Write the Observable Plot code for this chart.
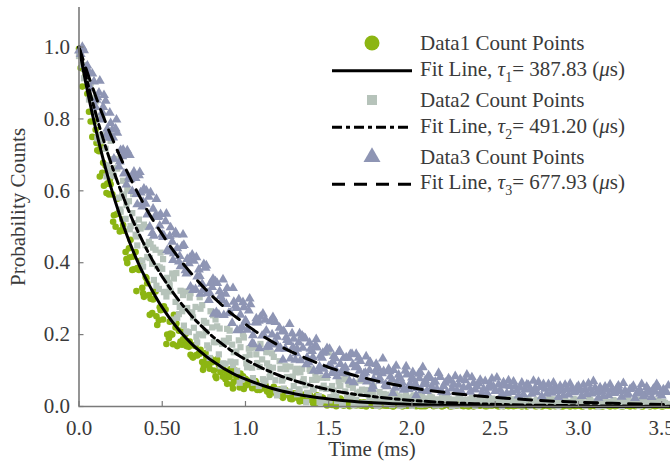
<!DOCTYPE html>
<html><head><meta charset="utf-8">
<script src="https://cdn.jsdelivr.net/npm/d3@7"></script>
<script src="https://cdn.jsdelivr.net/npm/@observablehq/plot@0.6"></script>
<style>
html,body{margin:0;padding:0;background:#fff;}
#chart{width:670px;height:465px;}
</style></head><body><div id="chart"></div>
<script>
// ---- data ----
// sample times A (ms)
const time = [
0,0.02,0.04,0.06,0.08,0.1,0.12,0.14,0.16,0.18,
0.2,0.22,0.24,0.26,0.28,0.3,0.32,0.34,0.36,0.38,
0.4,0.42,0.44,0.46,0.48,0.5,0.52,0.54,0.56,0.58,
0.6,0.62,0.64,0.66,0.68,0.7,0.72,0.74,0.76,0.78,
0.8,0.82,0.84,0.86,0.88,0.9,0.92,0.94,0.96,0.98,
1.0,1.02,1.04,1.06,1.08,1.1,1.12,1.14,1.16,1.18,
1.2,1.22,1.24,1.26,1.28,1.3,1.32,1.34,1.36,1.38,
1.4,1.42,1.44,1.46,1.48,1.5,1.52,1.54,1.56,1.58,
1.6,1.62,1.64,1.66,1.68,1.7,1.72,1.74,1.76,1.78,
1.8,1.82,1.84,1.86,1.88,1.9,1.92,1.94,1.96,1.98,
2.0,2.02,2.04,2.06,2.08,2.1,2.12,2.14,2.16,2.18,
2.2,2.22,2.24,2.26,2.28,2.3,2.32,2.34,2.36,2.38,
2.4,2.42,2.44,2.46,2.48,2.5,2.52,2.54,2.56,2.58,
2.6,2.62,2.64,2.66,2.68,2.7,2.72,2.74,2.76,2.78,
2.8,2.82,2.84,2.86,2.88,2.9,2.92,2.94,2.96,2.98,
3.0,3.02,3.04,3.06,3.08,3.1,3.12,3.14,3.16,3.18,
3.2,3.22,3.24,3.26,3.28,3.3,3.32,3.34,3.36,3.38,
3.4,3.42,3.44,3.46,3.48,3.5,3.52,3.54];
// sample times B (ms)
const timeB = [
0.01,0.03,0.05,0.07,0.09,0.11,0.13,0.15,0.17,0.19,
0.21,0.23,0.25,0.27,0.29,0.31,0.33,0.35,0.37,0.39,
0.41,0.43,0.45,0.47,0.49,0.51,0.53,0.55,0.57,0.59,
0.61,0.63,0.65,0.67,0.69,0.71,0.73,0.75,0.77,0.79,
0.81,0.83,0.85,0.87,0.89,0.91,0.93,0.95,0.97,0.99,
1.01,1.03,1.05,1.07,1.09,1.11,1.13,1.15,1.17,1.19,
1.21,1.23,1.25,1.27,1.29,1.31,1.33,1.35,1.37,1.39,
1.41,1.43,1.45,1.47,1.49,1.51,1.53,1.55,1.57,1.59,
1.61,1.63,1.65,1.67,1.69,1.71,1.73,1.75,1.77,1.79,
1.81,1.83,1.85,1.87,1.89,1.91,1.93,1.95,1.97,1.99,
2.01,2.03,2.05,2.07,2.09,2.11,2.13,2.15,2.17,2.19,
2.21,2.23,2.25,2.27,2.29,2.31,2.33,2.35,2.37,2.39,
2.41,2.43,2.45,2.47,2.49,2.51,2.53,2.55,2.57,2.59,
2.61,2.63,2.65,2.67,2.69,2.71,2.73,2.75,2.77,2.79,
2.81,2.83,2.85,2.87,2.89,2.91,2.93,2.95,2.97,2.99,
3.01,3.03,3.05,3.07,3.09,3.11,3.13,3.15,3.17,3.19,
3.21,3.23,3.25,3.27,3.29,3.31,3.33,3.35,3.37,3.39,
3.41,3.43,3.45,3.47,3.49,3.51,3.53];
// sample times C (ms), dense middle section
const timeC = [
0.105,0.125,0.145,0.165,0.185,0.205,0.225,0.245,0.265,0.285,
0.305,0.325,0.345,0.365,0.385,0.405,0.425,0.445,0.465,0.485,
0.505,0.525,0.545,0.565,0.585,0.605,0.625,0.645,0.665,0.685,
0.705,0.725,0.745,0.765,0.785,0.805,0.825,0.845,0.865,0.885,
0.905,0.925,0.945,0.965,0.985,1.005,1.025,1.045,1.065,1.085,
1.105,1.125,1.145,1.165,1.185,1.205,1.225,1.245,1.265,1.285,
1.305,1.325,1.345,1.365,1.385,1.405,1.425,1.445,1.465,1.485,
1.505,1.525,1.545,1.565,1.585,1.605,1.625,1.645,1.665,1.685,
1.705,1.725,1.745,1.765,1.785,1.805,1.825,1.845,1.865,1.885,
1.905,1.925,1.945,1.965,1.985,2.005,2.025,2.045,2.065,2.085];

const data1 = [
0.995,0.89,0.92,0.82,0.75,0.77,0.71,0.65,0.67,0.59,
0.59,0.50,0.54,0.52,0.43,0.44,0.38,0.43,0.38,0.33,
0.36,0.31,0.26,0.32,0.24,0.27,0.27,0.19,0.20,0.22,
0.211,0.172,0.202,0.166,0.139,0.168,0.147,0.124,0.149,0.115,
0.123,0.084,0.116,0.115,0.076,0.086,0.061,0.100,0.077,0.058,
0.077,0.065,0.051,0.071,0.050,0.057,0.060,0.039,0.042,0.048,
0.044,0.029,0.046,0.031,0.020,0.036,0.028,0.020,0.034,0.019,
0.025,0.008,0.024,0.025,0.009,0.015,0.004,0.024,0.014,0.006,
0.017,0.012,0.004,0.013,0.007,0.002,0.010,0.006,0.011,0.003,
0.008,0.005,0.009,0.002,0.007,0.004,0.008,0.001,0.006,0.003,
0.007,0.002,0.005,0.008,0.001,0.004,0.006,0.002,0.005,0.000,
0.004,0.007,0.001,0.003,0.006,0.002,0.004,0.000,0.005,0.002,
0.003,0.006,0.001,0.004,0.002,0.005,0.000,0.003,0.006,0.001,
0.003,0.002,0.005,0.000,0.004,0.002,0.006,0.001,0.003,0.000,
0.004,0.002,0.005,0.001,0.003,0.000,0.004,0.002,0.006,0.001,
0.003,0.000,0.004,0.002,0.005,0.001,0.003,0.000,0.004,0.002,
0.005,0.001,0.003,0.000,0.004,0.002,0.006,0.001,0.003,0.000,
0.004,0.002,0.005,0.001,0.003,0.000,0.004,0.002];
const data1b = [
0.942,0.938,0.870,0.793,0.793,0.713,0.725,0.614,0.620,0.618,
0.532,0.578,0.490,0.489,0.399,0.464,0.382,0.385,0.405,0.305,
0.343,0.300,0.319,0.227,0.268,0.279,0.200,0.203,0.255,0.168,
0.181,0.208,0.180,0.144,0.170,0.142,0.158,0.113,0.125,0.134,
0.100,0.131,0.095,0.102,0.063,0.104,0.069,0.077,0.092,0.049,
0.073,0.063,0.068,0.046,0.056,0.059,0.042,0.042,0.055,0.035,
0.031,0.047,0.036,0.021,0.036,0.024,0.034,0.015,0.023,0.029,
0.014,0.031,0.016,0.020,0.003,0.024,0.008,0.013,0.022,0.002,
0.009,0.014,0.006,0.010,0.003,0.012,0.005,0.009,0.002,0.010,
0.006,0.003,0.009,0.005,0.001,0.007,0.004,0.009,0.002,0.005,
0.008,0.003,0.001,0.006,0.004,0.007,0.001,0.003,0.006,0.002,
0.005,0.000,0.004,0.002,0.006,0.001,0.005,0.003,0.000,0.004,
0.002,0.005,0.001,0.003,0.006,0.002,0.004,0.001,0.003,0.005,
0.001,0.003,0.002,0.005,0.000,0.003,0.004,0.001,0.005,0.002,
0.003,0.000,0.004,0.002,0.005,0.001,0.003,0.000,0.004,0.002,
0.005,0.001,0.003,0.000,0.004,0.002,0.005,0.001,0.003,0.000,
0.004,0.002,0.005,0.001,0.003,0.000,0.004,0.002,0.005,0.001,
0.003,0.000,0.004,0.002,0.005,0.001,0.003];
const data1c = [
0.733,0.640,0.678,0.594,0.631,0.514,0.535,0.487,0.505,0.410,
0.415,0.417,0.321,0.385,0.315,0.357,0.255,0.298,0.251,0.276,
0.242,0.174,0.236,0.173,0.231,0.173,0.187,0.168,0.181,0.136,
0.143,0.147,0.102,0.137,0.105,0.128,0.079,0.104,0.083,0.097,
0.082,0.050,0.083,0.053,0.084,0.059,0.067,0.058,0.066,0.046,
0.050,0.053,0.032,0.049,0.035,0.047,0.024,0.037,0.028,0.035,
0.029,0.014,0.031,0.017,0.033,0.010,0.021,0.015,0.024,0.007,
0.013,0.018,0.001,0.018,0.005,0.019,0.001,0.011,0.003,0.012,
0.007,0.000,0.010,0.002,0.014,0.001,0.005,0.002,0.010,0.000,
0.004,0.005,0.001,0.007,0.002,0.008,0.001,0.002,0.001,0.004];

const data2 = [
0.975,0.950,0.950,0.854,0.857,0.849,0.755,0.807,0.717,0.655,
0.688,0.689,0.581,0.589,0.522,0.571,0.538,0.478,0.520,0.406,
0.449,0.458,0.397,0.436,0.327,0.383,0.319,0.344,0.370,0.291,
0.257,0.265,0.320,0.207,0.262,0.277,0.201,0.282,0.207,0.162,
0.220,0.242,0.145,0.174,0.119,0.190,0.172,0.123,0.184,0.076,
0.137,0.161,0.108,0.164,0.057,0.131,0.072,0.110,0.148,0.073,
0.045,0.072,0.112,0.041,0.082,0.095,0.048,0.105,0.059,0.032,
0.074,0.091,0.029,0.051,0.017,0.150,0.057,0.027,0.070,0.004,
0.042,0.061,0.027,0.066,0.006,0.047,0.010,0.037,0.064,0.015,
0.003,0.031,0.012,0.026,0.004,0.034,0.018,0.008,0.027,0.014,
0.002,0.024,0.011,0.030,0.006,0.019,0.025,0.003,0.016,0.028,
0.009,0.021,0.001,0.014,0.026,0.007,0.018,0.012,0.024,0.002,
0.015,0.020,0.005,0.013,0.022,0.008,0.017,0.001,0.011,0.021,
0.006,0.014,0.019,0.003,0.010,0.023,0.007,0.015,0.002,0.012,
0.018,0.005,0.013,0.020,0.001,0.009,0.016,0.004,0.011,0.019,
0.006,0.012,0.002,0.017,0.008,0.014,0.000,0.010,0.018,0.004,
0.012,0.007,0.015,0.001,0.009,0.017,0.005,0.011,0.003,0.014,
0.008,0.002,0.012,0.006,0.015,0.003,0.010,0.007];
const data2b = [
0.99,0.913,0.907,0.899,0.819,0.746,0.809,0.755,0.671,0.739,
0.641,0.662,0.542,0.589,0.603,0.502,0.510,0.448,0.495,0.506,
0.416,0.452,0.352,0.390,0.428,0.318,0.358,0.320,0.356,0.247,
0.322,0.225,0.274,0.315,0.219,0.178,0.272,0.238,0.170,0.265,
0.179,0.223,0.112,0.183,0.216,0.125,0.151,0.099,0.165,0.192,
0.109,0.162,0.066,0.121,0.174,0.066,0.120,0.090,0.138,0.031,
0.105,0.050,0.082,0.111,0.057,0.034,0.095,0.076,0.038,0.099,
0.049,0.078,0.012,0.058,0.080,0.026,0.044,0.015,0.057,0.075,
0.025,0.060,0.003,0.037,0.072,0.007,0.041,0.024,0.055,0.002,
0.019,0.035,0.008,0.022,0.013,0.029,0.002,0.017,0.024,0.010,
0.031,0.015,0.005,0.022,0.012,0.027,0.009,0.020,0.004,0.016,
0.025,0.011,0.019,0.003,0.023,0.013,0.006,0.020,0.015,0.009,
0.024,0.012,0.017,0.004,0.019,0.013,0.022,0.007,0.015,0.010,
0.020,0.005,0.016,0.011,0.021,0.002,0.013,0.018,0.008,0.016,
0.011,0.020,0.003,0.014,0.009,0.018,0.006,0.013,0.021,0.008,
0.015,0.010,0.004,0.019,0.012,0.007,0.016,0.002,0.013,0.009,
0.018,0.004,0.011,0.016,0.006,0.013,0.010,0.019,0.002,0.012,
0.016,0.005,0.011,0.017,0.008,0.013,0.004];
const data2c = [
0.860,0.738,0.752,0.640,0.754,0.644,0.663,0.548,0.628,0.560,
0.493,0.591,0.473,0.499,0.389,0.499,0.413,0.442,0.336,0.387,
0.410,0.306,0.337,0.242,0.371,0.277,0.310,0.209,0.303,0.248,
0.194,0.304,0.198,0.233,0.135,0.254,0.179,0.217,0.120,0.180,
0.211,0.115,0.153,0.066,0.202,0.120,0.144,0.079,0.145,0.110,
0.076,0.151,0.082,0.108,0.045,0.126,0.078,0.104,0.041,0.083,
0.105,0.042,0.069,0.012,0.104,0.047,0.074,0.012,0.080,0.049,
0.017,0.095,0.028,0.057,0.005,0.078,0.030,0.052,0.018,0.041,
0.009,0.046,0.025,0.037,0.006,0.040,0.021,0.033,0.011,0.038,
0.016,0.028,0.004,0.031,0.019,0.026,0.008,0.029,0.014,0.022];

const data3 = [
0.99,1.00,0.941,0.931,0.926,0.833,0.873,0.818,0.850,0.747,
0.770,0.773,0.667,0.696,0.702,0.637,0.599,0.635,0.643,0.556,
0.564,0.583,0.482,0.532,0.528,0.478,0.515,0.431,0.458,0.485,
0.403,0.446,0.379,0.398,0.422,0.326,0.381,0.341,0.386,0.296,
0.332,0.348,0.255,0.296,0.313,0.260,0.232,0.280,0.298,0.221,
0.239,0.267,0.176,0.234,0.238,0.197,0.241,0.166,0.200,0.235,
0.160,0.208,0.160,0.179,0.203,0.130,0.178,0.197,0.189,0.122,
0.154,0.170,0.098,0.135,0.152,0.112,0.093,0.134,0.151,0.092,
0.109,0.135,0.146,0.109,0.135,0.076,0.094,0.120,0.049,0.099,
0.105,0.092,0.061,0.104,0.075,0.052,0.088,0.067,0.099,0.048,
0.080,0.063,0.091,0.045,0.072,0.086,0.054,0.069,0.093,0.041,
0.066,0.078,0.050,0.084,0.060,0.039,0.073,0.055,0.081,0.047,
0.064,0.036,0.070,0.052,0.077,0.043,0.061,0.034,0.058,0.072,
0.040,0.055,0.030,0.066,0.047,0.059,0.035,0.051,0.068,0.028,
0.049,0.062,0.038,0.054,0.026,0.045,0.060,0.033,0.050,0.041,
0.057,0.029,0.046,0.064,0.036,0.052,0.024,0.043,0.055,0.031,
0.047,0.038,0.058,0.027,0.044,0.035,0.051,0.023,0.040,0.062,
0.032,0.046,0.026,0.041,0.053,0.030,0.044,0.058];
const data3b = [
0.980,0.991,0.948,0.885,0.904,0.860,0.798,0.866,0.772,0.788,
0.689,0.761,0.713,0.648,0.712,0.632,0.653,0.562,0.595,0.606,
0.534,0.595,0.475,0.527,0.535,0.476,0.435,0.498,0.426,0.440,
0.390,0.449,0.410,0.333,0.405,0.361,0.313,0.396,0.315,0.343,
0.258,0.343,0.307,0.254,0.329,0.260,0.291,0.212,0.255,0.276,
0.213,0.284,0.173,0.233,0.249,0.199,0.166,0.237,0.172,0.194,
0.163,0.210,0.185,0.133,0.188,0.160,0.128,0.192,0.136,0.160,
0.100,0.164,0.141,0.105,0.162,0.115,0.140,0.084,0.118,0.135,
0.092,0.145,0.067,0.112,0.126,0.091,0.069,0.123,0.076,0.094,
0.071,0.098,0.056,0.083,0.101,0.064,0.078,0.046,0.089,0.060,
0.074,0.051,0.095,0.062,0.043,0.079,0.066,0.048,0.082,0.057,
0.039,0.071,0.062,0.044,0.076,0.053,0.088,0.041,0.065,0.056,
0.074,0.049,0.038,0.063,0.055,0.080,0.046,0.067,0.037,0.057,
0.069,0.044,0.052,0.033,0.061,0.048,0.071,0.039,0.054,0.062,
0.035,0.050,0.066,0.043,0.057,0.031,0.048,0.063,0.039,0.052,
0.044,0.060,0.034,0.049,0.070,0.040,0.053,0.029,0.046,0.061,
0.037,0.050,0.043,0.065,0.032,0.048,0.057,0.036,0.045,0.028,
0.054,0.039,0.049,0.062,0.035,0.047,0.040];
const data3c = [
0.853,0.906,0.833,0.756,0.817,0.748,0.798,0.681,0.714,0.617,
0.699,0.639,0.591,0.652,0.569,0.600,0.500,0.550,0.577,0.503,
0.471,0.536,0.474,0.407,0.478,0.418,0.478,0.370,0.413,0.324,
0.415,0.363,0.324,0.392,0.316,0.355,0.262,0.320,0.353,0.285,
0.259,0.329,0.274,0.213,0.290,0.235,0.300,0.198,0.245,0.162,
0.258,0.211,0.175,0.248,0.176,0.219,0.130,0.192,0.229,0.165,
0.148,0.203,0.163,0.117,0.177,0.137,0.187,0.111,0.149,0.087,
0.160,0.125,0.100,0.155,0.103,0.136,0.071,0.117,0.146,0.099,
0.082,0.139,0.101,0.057,0.118,0.080,0.133,0.059,0.098,0.037,
0.113,0.079,0.055,0.111,0.061,0.095,0.031,0.078,0.109,0.062];

// fitted decay curves
const fitTime = [0,0.04,0.08,0.12,0.16,0.2,0.24,0.28,0.32,0.36,0.4,0.44,0.48,0.52,0.56,0.6,0.64,0.68,0.72,0.76,0.8,0.84,0.88,0.92,0.96,1.0,
1.1,1.2,1.3,1.4,1.5,1.6,1.8,2.0,2.2,2.4,2.6,2.8,3.0,3.2,3.4,3.55];
const fit1 = [1,0.902,0.814,0.734,0.662,0.597,0.539,0.486,0.438,0.395,0.357,0.322,0.290,0.262,0.236,0.213,0.192,0.173,0.156,0.141,0.127,0.115,0.103,0.093,0.084,0.076,
0.059,0.045,0.035,0.027,0.021,0.016,0.0096,0.0058,0.0034,0.0021,0.0012,0.0007,0.0004,0.0003,0.0002,0.0001];
const fit2 = [1,0.922,0.850,0.783,0.722,0.666,0.614,0.566,0.521,0.481,0.443,0.408,0.376,0.347,0.320,0.295,0.272,0.250,0.231,0.213,0.196,0.181,0.167,0.154,0.142,0.131,
0.107,0.087,0.071,0.058,0.047,0.038,0.026,0.017,0.011,0.0076,0.0050,0.0033,0.0022,0.0015,0.0010,0.0007];
const fit3 = [1,0.943,0.889,0.838,0.790,0.745,0.702,0.662,0.624,0.588,0.554,0.522,0.493,0.465,0.438,0.413,0.389,0.367,0.346,0.326,0.307,0.290,0.273,0.257,0.243,0.229,
0.197,0.170,0.147,0.127,0.109,0.094,0.070,0.052,0.039,0.029,0.022,0.016,0.012,0.0089,0.0066,0.0053];

const xTicks = [0,0.5,1,1.5,2,2.5,3,3.5];
const xTickLabels = ["0.0","0.50","1.0","1.5","2.0","2.5","3.0","3.5"];
const yTicks = [0,0.2,0.4,0.6,0.8,1.0];
const yTickLabels = ["0.0","0.2","0.4","0.6","0.8","1.0"];
const seriesNames = ["Data1 Count Points","Data2 Count Points","Data3 Count Points"];
const tauSubs = ["1","2","3"];
const tauValues = ["387.83","491.20","677.93"];
const xLabel = "Time (ms)";
const yLabel = "Probability Counts";

// ---- styles ----
const FONT = "'Liberation Serif','Times New Roman',serif";
const GREEN = "#8cb512", GRAY = "#b6c3ba", SLATE = "#8e95b4";
const AXIS = "#7a7a7a", TEXT = "#3a3a3a";
const dashes = [null, "10,4,4,4", "13,9"];

const W = 670, H = 465, mL = 78.5, mR = 0.5, mT = 7, mB = 59;
const plotW = W - mL - mR, plotH = H - mT - mB;

const pts = (ts, arr) => ts.map((t, i) => ({t, v: arr[i]}));
const green = pts(time, data1).concat(pts(timeB, data1b), pts(timeC, data1c));
const gray = pts(time, data2).concat(pts(timeB, data2b), pts(timeC, data2c));
const slate = pts(time, data3).concat(pts(timeB, data3b), pts(timeC, data3c));

const chart = Plot.plot({
  width: W, height: H,
  marginLeft: mL, marginRight: mR, marginTop: mT, marginBottom: mB,
  x: {domain: [0, 3.55]},
  y: {domain: [0, 1.11]},
  style: {fontFamily: FONT, fontSize: "21px", color: TEXT, background: "#fff"},
  marks: [
    Plot.dot(green, {x: "t", y: "v", r: 3.3, fill: GREEN}),
    Plot.dot(gray, {x: "t", y: "v", symbol: "square", r: 3.5, fill: GRAY}),
    Plot.dot(slate, {x: "t", y: "v", symbol: "triangle", r: 3.7, fill: SLATE}),
    Plot.line(pts(fitTime, fit1), {x: "t", y: "v", stroke: "#000", strokeWidth: 3, curve: "monotone-x"}),
    Plot.line(pts(fitTime, fit2), {x: "t", y: "v", stroke: "#000", strokeWidth: 3, strokeDasharray: dashes[1], curve: "monotone-x"}),
    Plot.line(pts(fitTime, fit3), {x: "t", y: "v", stroke: "#000", strokeWidth: 3, strokeDasharray: dashes[2], curve: "monotone-x"}),
    Plot.ruleX([0], {stroke: AXIS, strokeWidth: 1.6}),
    Plot.ruleY([0], {stroke: AXIS, strokeWidth: 1.6}),
    Plot.tickX(xTicks, {x: d => d, insetTop: plotH - 5, stroke: AXIS, strokeWidth: 1.2}),
    Plot.tickY(yTicks, {y: d => d, insetRight: plotW - 5, stroke: AXIS, strokeWidth: 1.2}),
    Plot.axisX(xTicks, {tickSize: 0, tickPadding: 14, label: null,
      tickFormat: d => xTickLabels[xTicks.indexOf(d)]}),
    Plot.axisY(yTicks, {tickSize: 0, tickPadding: 9, label: null,
      tickFormat: d => yTickLabels[yTicks.indexOf(d)]})
  ]
});
document.getElementById("chart").appendChild(chart);

// ---- axis titles and legend ----
const svg = d3.select(chart);
const g = svg.append("g").attr("font-family", FONT).attr("font-size", 21).attr("fill", TEXT)
  .attr("text-anchor", "start");
g.append("text").attr("x", 372).attr("y", 456).attr("text-anchor", "middle").text(xLabel);
g.append("text").attr("transform", "translate(25,207) rotate(-90)").attr("text-anchor", "middle").text(yLabel);

const markerX = 372, lineX1 = 332, lineX2 = 412, textX = 420;
const dataBase = [50, 107, 164];
const fitBase = [76, 132.5, 189];
const markerY = [43, 100, 157];
const lineY = [70.7, 127.3, 184.3];

g.append("circle").attr("cx", markerX).attr("cy", markerY[0]).attr("r", 7.5).attr("fill", GREEN);
g.append("rect").attr("x", markerX - 5).attr("y", markerY[1] - 5).attr("width", 10).attr("height", 10).attr("fill", GRAY);
g.append("path").attr("transform", `translate(${markerX},${markerY[2]})`)
  .attr("d", d3.symbol(d3.symbolTriangle, 125)()).attr("fill", SLATE);

for (let i = 0; i < 3; i++) {
  g.append("text").attr("x", textX).attr("y", dataBase[i]).text(seriesNames[i]);
  const ln = g.append("line").attr("x1", lineX1).attr("x2", lineX2).attr("y1", lineY[i]).attr("y2", lineY[i])
    .attr("stroke", "#000").attr("stroke-width", 3);
  if (dashes[i]) ln.attr("stroke-dasharray", dashes[i]);
  const t = g.append("text").attr("x", textX).attr("y", fitBase[i]);
  t.append("tspan").text("Fit Line, ");
  t.append("tspan").attr("font-style", "italic").text("\u03C4");
  t.append("tspan").attr("font-size", 14).attr("dy", 6).text(tauSubs[i]);
  t.append("tspan").attr("dy", -6).text("= " + tauValues[i] + " (");
  t.append("tspan").attr("font-style", "italic").text("\u03BC");
  t.append("tspan").text("s)");
}
</script>
</body></html>
